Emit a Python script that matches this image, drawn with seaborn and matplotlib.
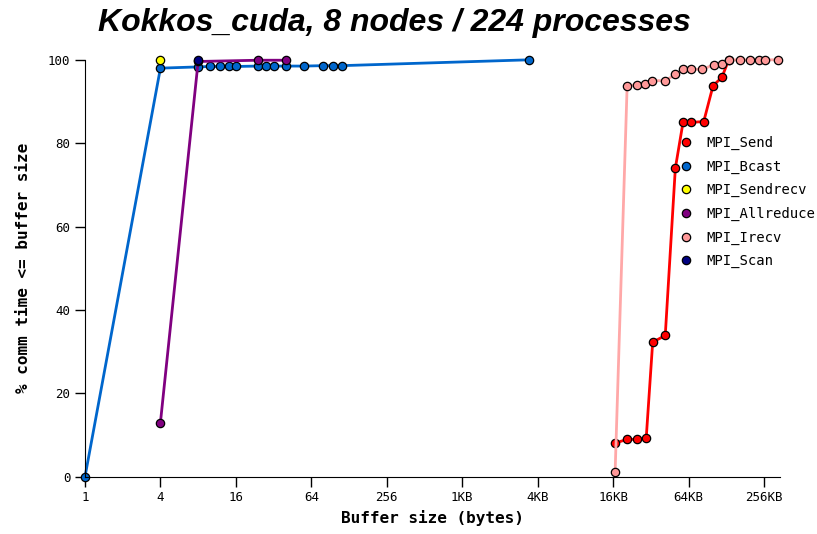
import seaborn as sns
import matplotlib.pyplot as plt
import pandas as pd
from matplotlib.lines import Line2D

sns.set_style("ticks")
plt.rcParams['font.family'] = ['DejaVu Sans Mono', 'DejaVu Sans']
plt.rcParams['text.color'] = 'black'
plt.rcParams['axes.labelcolor'] = 'black'
plt.rcParams['axes.edgecolor'] = 'black'

# values (buffer size in bytes, % comm time)
send_x = [17000, 21200, 25500, 30100, 33900, 42700, 51400, 59200, 68900, 86600, 102800, 121000, 137000]
send_y = [8.1, 9.0, 9.0, 9.3, 32.3, 33.9, 74.0, 85.0, 85.0, 85.2, 93.8, 95.8, 100]

bcast_x = [1, 4, 8, 10, 12, 14, 16, 24, 28, 32, 40, 56, 80, 96, 112, 3500]
bcast_y = [0, 98.0, 98.3, 98.4, 98.4, 98.4, 98.4, 98.5, 98.5, 98.5, 98.5, 98.5, 98.6, 98.6, 98.6, 100]

sendrecv_x = [4]
sendrecv_y = [100]

allreduce_x = [4, 8, 24, 40]
allreduce_y = [13, 99.6, 99.9, 99.9]

irecv_x = [17000, 21200, 25400, 29300, 33500, 42700, 51500, 59200, 68900, 84100, 104000,
           121000, 137000, 169000, 204000, 238000, 269000, 342000]
irecv_y = [1.2, 93.8, 94.0, 94.2, 95.0, 95.0, 96.5, 97.7, 97.8, 97.7, 98.8,
           99.0, 100, 100, 100, 100, 100, 100]

scan_x = [8]
scan_y = [100]

names = ['MPI_Send', 'MPI_Bcast', 'MPI_Sendrecv', 'MPI_Allreduce', 'MPI_Irecv', 'MPI_Scan']
xs = [send_x, bcast_x, sendrecv_x, allreduce_x, irecv_x, scan_x]
ys = [send_y, bcast_y, sendrecv_y, allreduce_y, irecv_y, scan_y]
line_colors = ['#ff0000', '#0066cc', '#ffff00', '#800080', '#ffa8a8', '#000080']
marker_colors = ['#ff0000', '#0066cc', '#ffff00', '#800080', '#ff9999', '#000080']

tick_vals = [1, 4, 16, 64, 256, 1024, 4096, 16384, 65536, 262144]
tick_labels = ['1', '4', '16', '64', '256', '1KB', '4KB', '16KB', '64KB', '256KB']

fig = plt.figure(figsize=(8.17, 5.34), dpi=100)
ax = fig.add_axes([0.104, 0.107, 0.851, 0.781])

for name, x, y, lc, mc in zip(names, xs, ys, line_colors, marker_colors):
    df = pd.DataFrame({'size': x, 'pct': y})
    sns.lineplot(data=df, x='size', y='pct', ax=ax, color=lc, linewidth=2.0,
                 marker='o', markersize=6, markerfacecolor=mc, markeredgecolor='black',
                 markeredgewidth=0.9, sort=False, estimator=None, clip_on=False, legend=False)

ax.set_xscale('log', base=2)
ax.set_xlim(1, 2 ** 18.43)
ax.set_ylim(0, 100)
ax.set_xticks(tick_vals)
ax.set_xticklabels(tick_labels)
ax.minorticks_off()
ax.set_yticks([0, 20, 40, 60, 80, 100])
ax.tick_params(axis='both', length=7, width=1, labelsize=9, colors='black')
sns.despine(ax=ax)

ax.set_xlabel('Buffer size (bytes)', fontsize=11.5, fontweight='bold')
ax.set_ylabel('% comm time <= buffer size', fontsize=11.5, fontweight='bold', labelpad=12)

fig.text(0.483, 0.956, 'Kokkos_cuda, 8 nodes / 224 processes', ha='center', va='center',
         fontsize=23, fontweight='bold', fontstyle='italic', family='Liberation Sans')

handles = [Line2D([], [], linestyle='none', marker='o', markersize=6, markerfacecolor=mc,
                  markeredgecolor='black', markeredgewidth=0.9) for mc in marker_colors]
ax.legend(handles, names, loc='upper left', bbox_to_anchor=(0.823, 0.758),
          bbox_transform=fig.transFigure, frameon=False, fontsize=10,
          handlelength=1.0, handletextpad=0.95, labelspacing=0.68, borderpad=0)

fig.savefig('out.png', dpi=100)
